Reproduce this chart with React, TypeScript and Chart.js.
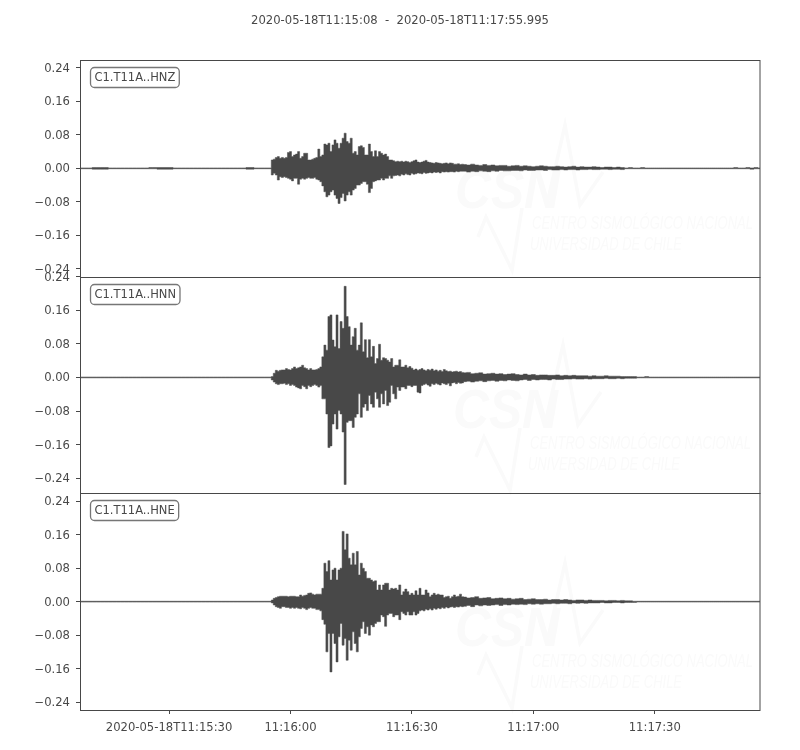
import React, { useEffect, useRef } from 'react';
import { Chart, registerables } from 'chart.js';

Chart.register(...registerables);

const INK = '#484848';
const WATERMARK = '#fafafa';
const FONT = '"DejaVu Sans"';

const titleText = '2020-05-18T11:15:08  -  2020-05-18T11:17:55.995';
const traceNames = ['C1.T11A..HNE', 'C1.T11A..HNN', 'C1.T11A..HNZ'];

// seconds after 11:15:08
const xTickSeconds = [22, 52, 82, 112, 142];
const xTickLabels = ['2020-05-18T11:15:30', '11:16:00', '11:16:30', '11:17:00', '11:17:30'];
const yTickValues = [-0.24, -0.16, -0.08, 0, 0.08, 0.16, 0.24];

// sample times: quiet part every 2 s, strong motion every 0.5 s, coda every 1 s
const quietSeconds = [0, 2, 4, 6, 8, 10, 12, 14, 16, 18, 20, 22, 24, 26, 28, 30, 32, 34, 36, 38, 40, 42, 44, 47];
const strongStart = 47.5;
const strongCount = 95;
const codaStart = 95;
const codaCount = 74;

// envelopes, in thousandths of the axis unit
const hnzUpper = [
  1, 1, 2, 2, 1, 1, 1, 1, 1, 2, 2, 2, 1, 1, 1, 1, 1, 1, 1, 1, 1, 2, 1, 1,
  20, 22, 26, 28, 24, 26, 24, 26, 38, 40,
  28, 32, 34, 40, 24, 28, 36, 36, 20, 20,
  22, 24, 26, 46, 28, 32, 58, 56, 60, 40,
  56, 68, 60, 48, 60, 72, 84, 64, 60, 72,
  36, 40, 32, 52, 54, 50, 32, 32, 58, 40,
  28, 42, 28, 40, 36, 32, 34, 28, 20, 20,
  18, 16, 17, 16, 17, 15, 17, 16, 14, 16,
  18, 20, 15, 14, 15, 17, 19, 15, 14, 13,
  12, 14, 13, 12, 11, 12, 13, 11, 13, 12,
  10, 10, 11, 9, 10,
  9, 8, 10, 8, 7, 9, 7, 8, 6, 7,
  7, 5, 6, 7, 5, 6, 5, 4, 5, 6,
  5, 4, 4, 5, 4, 3, 4, 5, 3, 4,
  3, 3, 4, 3, 2, 3, 3, 2, 3, 2,
  1, 2, 1, 1, 2, 1, 1, 1, 1, 1,
  1, 1, 1, 1, 1, 1, 1, 1, 1, 1,
  1, 1, 1, 1, 1, 1, 1, 2, 1, 1,
  2, 1, 2, 1,
];
const hnzLower = [
  -1, -1, -2, -2, -1, -1, -1, -1, -1, -1, -2, -2, -1, -1, -1, -1, -1, -1, -1, -1, -1, -2, -1, -1,
  -16, -12, -16, -28, -20, -22, -20, -22, -24, -26,
  -30, -24, -24, -38, -26, -24, -26, -24, -22, -24,
  -24, -22, -26, -28, -32, -42, -56, -68, -64, -56,
  -52, -64, -72, -84, -70, -60, -78, -64, -56, -64,
  -52, -48, -40, -40, -36, -32, -32, -38, -58, -48,
  -32, -30, -28, -28, -24, -28, -24, -24, -18, -24,
  -18, -17, -16, -18, -14, -16, -13, -15, -16, -12,
  -14, -13, -11, -12, -13, -10, -12, -11, -10, -11,
  -9, -10, -9, -11, -8, -9, -8, -9, -8, -8,
  -9, -7, -8, -7, -7,
  -7, -9, -7, -8, -6, -7, -8, -6, -7, -5,
  -6, -6, -5, -5, -6, -4, -5, -5, -4, -4,
  -5, -3, -4, -4, -3, -4, -3, -3, -4, -3,
  -3, -2, -3, -3, -2, -2, -3, -2, -2, -3,
  -1, -1, -1, -1, -1, -1, -1, -1, -1, -1,
  -1, -1, -1, -1, -1, -1, -1, -1, -1, -1,
  -1, -1, -1, -1, -1, -1, -1, -1, -1, -1,
  -1, -2, -1, -1,
];

const hnnUpper = [
  1, 1, 1, 1, 1, 1, 1, 1, 1, 1, 1, 1, 1, 1, 1, 1, 1, 1, 1, 1, 1, 1, 1, 1,
  2, 10, 17, 15, 17, 18, 18, 21, 19, 18,
  21, 25, 21, 23, 25, 29, 23, 21, 18, 21,
  18, 18, 19, 21, 25, 49, 77, 65, 145, 149,
  89, 73, 149, 69, 133, 117, 217, 145, 121, 77,
  97, 117, 65, 77, 130, 61, 90, 47, 90, 49,
  74, 33, 45, 79, 41, 47, 45, 41, 37, 45,
  25, 29, 29, 42, 25, 25, 29, 23, 26, 22,
  18, 20, 17, 19, 21, 18, 16, 19, 17, 20,
  16, 18, 15, 17, 14, 19, 16, 14, 15, 13,
  14, 15, 13, 14, 12,
  11, 12, 9, 10, 11, 8, 9, 10, 8, 9,
  7, 8, 9, 7, 6, 8, 6, 7, 5, 6,
  6, 5, 5, 6, 4, 5, 4, 5, 4, 4,
  4, 3, 4, 3, 3, 4, 3, 3, 3, 2,
  2, 2, 2, 1, 1, 2, 1, 1, 1, 1,
  1, 1, 1, 1, 1, 1, 1, 1, 1, 1,
  1, 1, 1, 1, 1, 1, 1, 1, 1, 1,
  1, 1, 1, 1,
];
const hnnLower = [
  -1, -1, -1, -1, -1, -1, -1, -1, -1, -1, -1, -1, -1, -1, -1, -1, -1, -1, -1, -1, -1, -1, -1, -1,
  -6, -11, -15, -17, -15, -15, -14, -17, -15, -19,
  -17, -19, -23, -25, -27, -19, -22, -27, -19, -22,
  -19, -17, -19, -23, -19, -51, -51, -87, -167, -163,
  -111, -87, -123, -79, -87, -130, -255, -107, -103, -103,
  -119, -95, -87, -39, -95, -71, -63, -79, -43, -63,
  -71, -35, -51, -71, -39, -63, -31, -67, -59, -19,
  -39, -51, -23, -31, -23, -23, -27, -19, -19, -22,
  -19, -19, -35, -37, -19, -17, -15, -18, -21, -15,
  -17, -14, -16, -18, -13, -15, -17, -14, -20, -13,
  -12, -15, -12, -14, -13,
  -10, -9, -11, -9, -8, -10, -8, -7, -9, -7,
  -8, -6, -7, -8, -6, -5, -7, -5, -6, -5,
  -5, -6, -4, -5, -5, -4, -4, -3, -4, -4,
  -3, -4, -3, -3, -3, -2, -3, -3, -2, -3,
  -2, -2, -2, -1, -1, -1, -1, -1, -1, -1,
  -1, -1, -1, -1, -1, -1, -1, -1, -1, -1,
  -1, -1, -1, -1, -1, -1, -1, -1, -1, -1,
  -1, -1, -1, -1,
];

const hneUpper = [
  1, 1, 1, 1, 1, 1, 1, 1, 1, 1, 1, 1, 1, 1, 1, 1, 1, 1, 1, 1, 1, 1, 1, 1,
  4, 8, 10, 12, 13, 13, 13, 13, 12, 13,
  13, 13, 12, 12, 16, 13, 15, 16, 20, 21,
  18, 16, 18, 18, 18, 32, 92, 72, 98, 52,
  76, 80, 52, 76, 80, 168, 124, 162, 104, 88,
  116, 88, 120, 64, 92, 80, 72, 56, 56, 52,
  48, 50, 28, 40, 28, 40, 44, 44, 28, 32,
  30, 32, 28, 40, 16, 24, 30, 24, 16, 20,
  16, 26, 16, 32, 16, 16, 28, 21, 12, 16,
  20, 16, 18, 16, 16, 10, 12, 13, 8, 12,
  16, 12, 13, 18, 12,
  11, 9, 10, 12, 8, 9, 10, 7, 8, 9,
  7, 8, 6, 7, 8, 5, 6, 7, 5, 5,
  6, 4, 5, 5, 4, 5, 4, 3, 4, 4,
  3, 4, 3, 3, 3, 2, 3, 3, 2, 3,
  2, 2, 1, 1, 1, 1, 1, 1, 1, 1,
  1, 1, 1, 1, 1, 1, 1, 1, 1, 1,
  1, 1, 1, 1, 1, 1, 1, 1, 1, 1,
  1, 1, 1, 1,
];
const hneLower = [
  -1, -1, -1, -1, -1, -1, -1, -1, -1, -1, -1, -1, -1, -1, -1, -1, -1, -1, -1, -1, -1, -1, -1, -1,
  -3, -8, -12, -14, -16, -12, -12, -14, -14, -16,
  -14, -16, -14, -16, -17, -14, -16, -19, -16, -14,
  -16, -16, -19, -19, -22, -43, -54, -120, -76, -168,
  -76, -100, -144, -84, -52, -104, -88, -140, -92, -116,
  -72, -100, -120, -84, -64, -48, -76, -60, -80, -56,
  -60, -52, -48, -48, -32, -36, -59, -32, -28, -28,
  -36, -32, -32, -43, -24, -28, -32, -24, -32, -32,
  -24, -32, -28, -22, -20, -22, -18, -20, -17, -20,
  -16, -18, -15, -17, -14, -16, -13, -15, -13, -12,
  -14, -12, -13, -11, -12,
  -11, -9, -12, -8, -10, -8, -9, -8, -7, -9,
  -7, -8, -6, -7, -6, -7, -5, -6, -5, -6,
  -5, -5, -4, -5, -4, -4, -5, -3, -4, -3,
  -4, -3, -3, -3, -2, -3, -3, -2, -2, -3,
  -2, -2, -2, -1, -1, -1, -1, -1, -1, -1,
  -1, -1, -1, -1, -1, -1, -1, -1, -1, -1,
  -1, -1, -1, -1, -1, -1, -1, -1, -1, -1,
  -1, -1, -1, -1,
];

const sampleSeconds: number[] = [...quietSeconds];
for (let i = 0; i < strongCount; i++) sampleSeconds.push(strongStart + i * 0.5);
for (let i = 0; i < codaCount; i++) sampleSeconds.push(codaStart + i);

const toPoints = (values: number[]) => values.map((v, i) => ({ x: sampleSeconds[i], y: v / 1000 }));

// upper edge filled down to the lower edge, so the trace reads as a solid envelope
const trace = (upper: number[], lower: number[], yAxisID: string) => {
  const line = { yAxisID, borderColor: INK, backgroundColor: INK, borderWidth: 0.5, pointRadius: 0, stepped: 'middle' };
  return [
    { ...line, data: toPoints(upper), fill: '+1' },
    { ...line, data: toPoints(lower), fill: false },
  ];
};

const yAxis = (min: number, max: number) => ({
  type: 'linear' as const,
  position: 'left' as const,
  stack: 'traces',
  min,
  max,
  afterBuildTicks: (scale: any) => {
    scale.ticks = yTickValues.map((value) => ({ value }));
  },
  afterFit: (scale: any) => {
    scale.width = 80;
  },
  border: { display: false },
  grid: { drawOnChartArea: false, tickLength: 4, tickColor: INK, tickWidth: 1 },
  ticks: {
    padding: 6,
    labelOffset: 1,
    color: INK,
    font: { family: 'DejaVu Sans', size: 11.6 },
    autoSkip: false,
    callback: (v: any) => (Number(v) < 0 ? '\u2212' : '') + Math.abs(Number(v)).toFixed(2),
  },
});

const panelDecor = {
  id: 'panelDecor',
  beforeDatasetsDraw(chart: any) {
    const { ctx } = chart;
    ctx.save();
    ctx.fillStyle = INK;
    ctx.textAlign = 'center';
    ctx.textBaseline = 'middle';
    ctx.font = `11.6px ${FONT}`;
    ctx.fillText(titleText, 400, 21);
    // faint agency watermark behind each trace
    const offsets = [[0, 0], [-2, 220], [0, 438]];
    offsets.forEach(([dx, dy]) => {
      ctx.fillStyle = WATERMARK;
      ctx.strokeStyle = WATERMARK;
      ctx.textAlign = 'left';
      ctx.textBaseline = 'alphabetic';
      ctx.font = 'italic bold 56px "Liberation Sans"';
      ctx.fillText('CSN', 455 + dx, 208 + dy, 105);
      ctx.font = 'italic 19px "Liberation Sans"';
      ctx.fillText('CENTRO SISMOLÓGICO NACIONAL', 532 + dx, 229 + dy, 221);
      ctx.fillText('UNIVERSIDAD DE CHILE', 530 + dx, 250 + dy, 152);
      ctx.lineWidth = 3.5;
      ctx.beginPath();
      ctx.moveTo(548 + dx, 200 + dy);
      ctx.lineTo(565 + dx, 125 + dy);
      ctx.lineTo(580 + dx, 205 + dy);
      ctx.lineTo(603 + dx, 172 + dy);
      ctx.moveTo(478 + dx, 237 + dy);
      ctx.lineTo(486 + dx, 217 + dy);
      ctx.lineTo(512 + dx, 270 + dy);
      ctx.lineTo(522 + dx, 208 + dy);
      ctx.stroke();
    });
    ctx.restore();
  },
  afterDatasetsDraw(chart: any) {
    const { ctx, chartArea, scales } = chart;
    ctx.save();
    ['hne', 'hnn', 'hnz'].forEach((id, i) => {
      const s = scales[id];
      const top = Math.round(s.top);
      ctx.strokeStyle = INK;
      ctx.lineWidth = 1;
      ctx.strokeRect(chartArea.left + 0.5, top + 0.5, chartArea.width - 0.5, Math.round(s.bottom) - top);
      // station label
      ctx.font = `11.5px ${FONT}`;
      const w = ctx.measureText(traceNames[i]).width;
      ctx.beginPath();
      ctx.roundRect(chartArea.left + 10.5, top + 7.5, w + 8, 20, 4);
      ctx.fillStyle = '#fff';
      ctx.fill();
      ctx.strokeStyle = '#767676';
      ctx.lineWidth = 1.3;
      ctx.stroke();
      ctx.fillStyle = INK;
      ctx.textAlign = 'left';
      ctx.textBaseline = 'middle';
      ctx.fillText(traceNames[i], chartArea.left + 14.5, top + 18);
    });
    ctx.restore();
  },
};

export default function App() {
  const canvasRef = useRef<HTMLCanvasElement>(null);

  useEffect(() => {
    if (!canvasRef.current) return;
    const chart = new Chart(canvasRef.current, {
      type: 'line',
      data: {
        datasets: [...trace(hneUpper, hneLower, 'hne'), ...trace(hnnUpper, hnnLower, 'hnn'), ...trace(hnzUpper, hnzLower, 'hnz')],
      },
      options: {
        animation: false,
        responsive: false,
        devicePixelRatio: 1,
        parsing: false,
        layout: { padding: { top: 60, right: 40 } },
        plugins: {
          legend: { display: false },
          tooltip: { enabled: false },
        },
        scales: {
          x: {
            type: 'linear',
            min: 0,
            max: 167.995,
            afterBuildTicks: (scale: any) => {
              scale.ticks = xTickSeconds.map((value) => ({ value }));
            },
            afterFit: (scale: any) => {
              scale.height = 40;
            },
            border: { display: false },
            grid: { drawOnChartArea: false, tickLength: 4, tickColor: INK },
            ticks: {
              color: INK,
              padding: 7,
              maxRotation: 0,
              autoSkip: false,
              font: { family: 'DejaVu Sans', size: 11.6 },
              callback: (v: any) => xTickLabels[xTickSeconds.indexOf(Number(v))],
            },
          },
          hne: yAxis(-0.259, 0.259),
          hnn: yAxis(-0.276, 0.24),
          hnz: yAxis(-0.259, 0.259),
        },
      } as any,
      plugins: [panelDecor],
    });
    return () => chart.destroy();
  }, []);

  return (
    <div style={{ position: 'fixed', left: 0, top: 0, width: 800, height: 750, background: '#fff' }}>
      <canvas ref={canvasRef} width={800} height={750} style={{ display: 'block' }} />
    </div>
  );
}
